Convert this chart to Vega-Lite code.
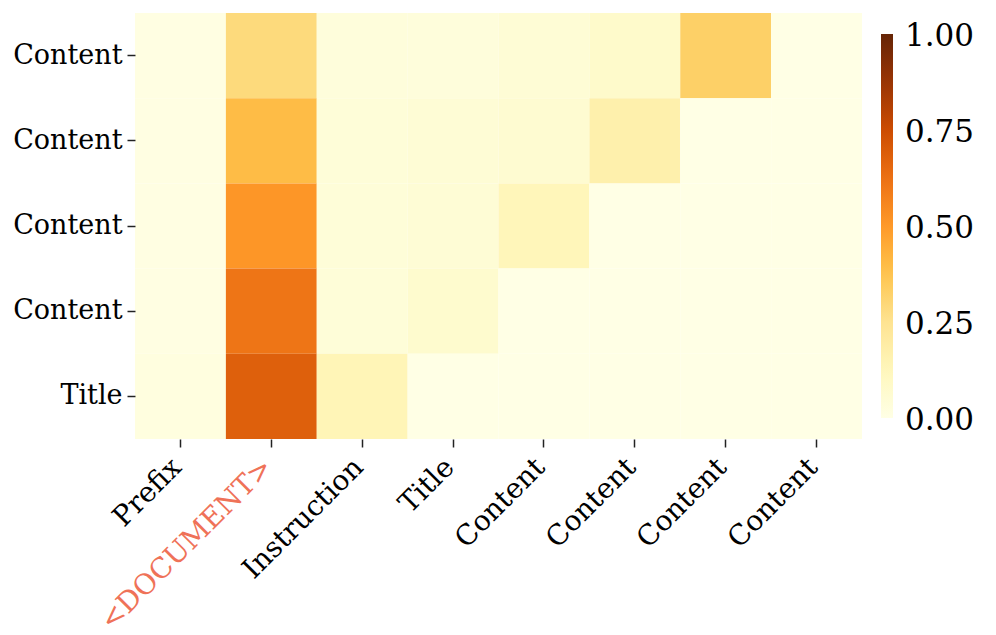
{
  "$schema": "https://vega.github.io/schema/vega-lite/v6.json",
  "autosize": {"type": "none"},
  "width": 727,
  "height": 426,
  "padding": {"left": 135, "top": 13, "right": 134, "bottom": 196},
  "background": "white",
  "config": {"view": {"stroke": null}, "font": "DejaVu Serif"},
  "data": {"values": [
    {"col": "0|Prefix", "row": "4|Content", "v": 0.01},
    {"col": "1|<DOCUMENT>", "row": "4|Content", "v": 0.29},
    {"col": "2|Instruction", "row": "4|Content", "v": 0.03},
    {"col": "3|Title", "row": "4|Content", "v": 0.03},
    {"col": "4|Content", "row": "4|Content", "v": 0.05},
    {"col": "5|Content", "row": "4|Content", "v": 0.08},
    {"col": "6|Content", "row": "4|Content", "v": 0.33},
    {"col": "7|Content", "row": "4|Content", "v": 0.0},
    {"col": "0|Prefix", "row": "3|Content", "v": 0.01},
    {"col": "1|<DOCUMENT>", "row": "3|Content", "v": 0.40},
    {"col": "2|Instruction", "row": "3|Content", "v": 0.04},
    {"col": "3|Title", "row": "3|Content", "v": 0.05},
    {"col": "4|Content", "row": "3|Content", "v": 0.06},
    {"col": "5|Content", "row": "3|Content", "v": 0.17},
    {"col": "6|Content", "row": "3|Content", "v": 0.0},
    {"col": "7|Content", "row": "3|Content", "v": 0.0},
    {"col": "0|Prefix", "row": "2|Content", "v": 0.01},
    {"col": "1|<DOCUMENT>", "row": "2|Content", "v": 0.51},
    {"col": "2|Instruction", "row": "2|Content", "v": 0.04},
    {"col": "3|Title", "row": "2|Content", "v": 0.05},
    {"col": "4|Content", "row": "2|Content", "v": 0.13},
    {"col": "5|Content", "row": "2|Content", "v": 0.0},
    {"col": "6|Content", "row": "2|Content", "v": 0.0},
    {"col": "7|Content", "row": "2|Content", "v": 0.0},
    {"col": "0|Prefix", "row": "1|Content", "v": 0.01},
    {"col": "1|<DOCUMENT>", "row": "1|Content", "v": 0.61},
    {"col": "2|Instruction", "row": "1|Content", "v": 0.04},
    {"col": "3|Title", "row": "1|Content", "v": 0.07},
    {"col": "4|Content", "row": "1|Content", "v": 0.0},
    {"col": "5|Content", "row": "1|Content", "v": 0.0},
    {"col": "6|Content", "row": "1|Content", "v": 0.0},
    {"col": "7|Content", "row": "1|Content", "v": 0.0},
    {"col": "0|Prefix", "row": "0|Title", "v": 0.02},
    {"col": "1|<DOCUMENT>", "row": "0|Title", "v": 0.68},
    {"col": "2|Instruction", "row": "0|Title", "v": 0.14},
    {"col": "3|Title", "row": "0|Title", "v": 0.0},
    {"col": "4|Content", "row": "0|Title", "v": 0.0},
    {"col": "5|Content", "row": "0|Title", "v": 0.0},
    {"col": "6|Content", "row": "0|Title", "v": 0.0},
    {"col": "7|Content", "row": "0|Title", "v": 0.0}
  ]},
  "mark": {"type": "rect", "strokeWidth": 0},
  "encoding": {
    "x": {
      "field": "col", "type": "nominal", "sort": "ascending",
      "scale": {"paddingInner": 0, "paddingOuter": 0},
      "axis": {
        "title": null, "domain": false, "labelAngle": -45,
        "labelExpr": "split(datum.value, '|')[1]",
        "labelFontSize": 28, "labelPadding": 6, "labelLimit": 500,
        "labelOffset": -13,
        "tickSize": 8, "tickWidth": 1.5, "tickColor": "#222",
        "labelColor": {"condition": {"test": "datum.value == '1|<DOCUMENT>'", "value": "#ef7258"}, "value": "black"}
      }
    },
    "y": {
      "field": "row", "type": "nominal", "sort": "descending",
      "scale": {"paddingInner": 0, "paddingOuter": 0},
      "axis": {
        "title": null, "domain": false,
        "labelExpr": "split(datum.value, '|')[1]",
        "labelFontSize": 27, "labelPadding": 5, "labelColor": "black",
        "tickSize": 8, "tickWidth": 1.5, "tickColor": "#222"
      }
    },
    "color": {
      "field": "v", "type": "quantitative",
      "scale": {
        "type": "linear",
        "domain": [0, 0.125, 0.25, 0.375, 0.5, 0.625, 0.75, 0.875, 1],
        "range": ["#ffffe5", "#fff7bc", "#fee391", "#fec44f", "#fe9929", "#ec7014", "#cc4c02", "#993404", "#662506"]
      },
      "legend": {
        "title": null, "orient": "none", "direction": "vertical",
        "legendX": 746, "legendY": 21,
        "gradientLength": 384, "gradientThickness": 12,
        "values": [0, 0.25, 0.5, 0.75, 1], "format": ".2f",
        "labelFontSize": 31, "labelColor": "black", "labelOffset": 12,
        "labelOverlap": false,
        "encode": {"labels": {"update": {"baseline": {"value": "middle"}, "dy": {"value": 3}}}}
      }
    }
  }
}
